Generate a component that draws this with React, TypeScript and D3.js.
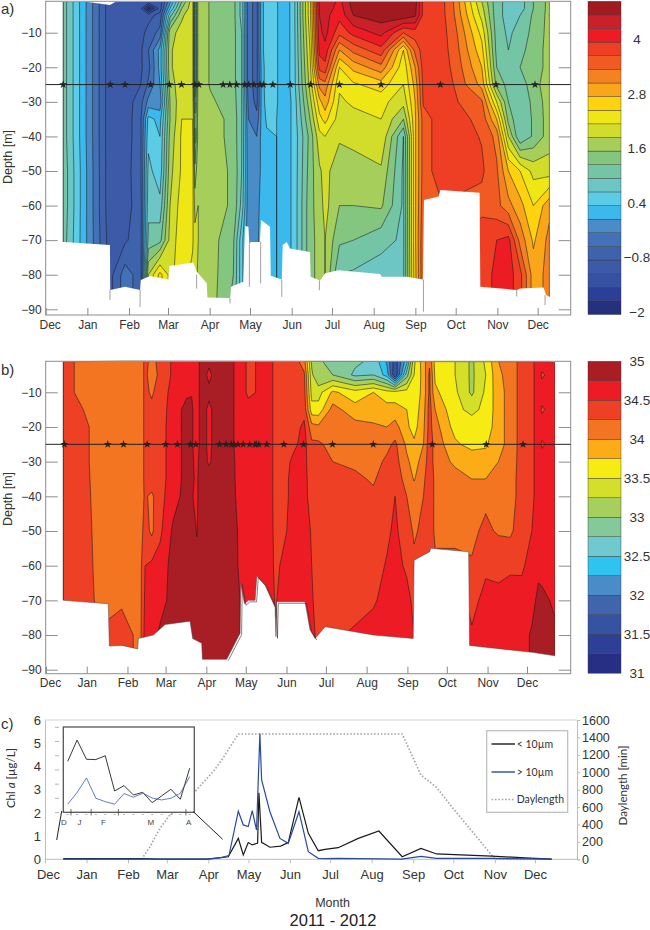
import React, { useRef, useEffect } from 'react';
import * as d3 from 'd3';

// days counted from 1 Dec 2011
const monthStarts = d3.timeMonth.range(new Date(2011, 11, 1), new Date(2012, 11, 2));

// a) temperature section: one row per sampling column, one value per depth
const tempDepths = [1, 3, 5, 10, 15, 20, 25, 30, 35, 40, 50, 60, 70, 80, 90];
const tempDays = [13.1, 47.8, 59, 70.7, 76.4, 85, 92.5, 101.2, 109.3, 111, 113.5, 122.2, 139.6, 145.8, 150.8, 157, 160.7, 164.4, 171.8, 178, 184, 196.6, 203.6, 207.8, 218.5, 228.9, 249.5, 266.1, 274.8, 281, 293.4, 303.3, 324.4, 335.5, 344.2, 352.9, 362.8, 374.7];
const tempGrid = [
  [1.15, 1.15, 1.15, 1.15, 1.15, 1.15, 1.15, 1.15, 1.15, 1.15, 1.2, 1.2, 1.15, 1.15, 1.15],
  [-1, -1, -1, -1, -1, -1, -1, -1, -1, -1, -1, -1, -0.95, -0.9, -0.9],
  [-1, -1, -1, -1, -1, -1, -1, -1, -1, -1, -0.95, -0.95, -0.85, -0.35, -0.3],
  [-1, -1, -1, -0.9, -0.85, -0.85, -0.8, -0.6, -0.55, -0.55, -0.55, -0.6, -0.6, -0.65, -0.7],
  [-0.9, -1.9, -0.9, -0.7, -0.5, -0.6, -0.45, -0.1, 0.5, 0.6, 0.8, 0.9, 1.1, 1.9, 2],
  [-1, -0.95, -0.7, -0.4, 0.2, 0.2, 0.1, -0.1, 0.3, 0.4, 0.5, 0.8, 1.2, 2.6, 2.7],
  [0, 0.4, 0.9, 1.8, 1.85, 1.85, 1.75, 1.6, 1.6, 1.7, 1.8, 1.9, 2, 2.1, 2.2],
  [1.3, 1.6, 1.85, 2, 2.1, 2.1, 2.1, 2.15, 2.2, 2.25, 2.25, 2.35, 2.4, 2.4, 2.4],
  [2.1, 2.1, 2.1, 2.1, 2.1, 2.1, 2.1, 2.15, 2.2, 2.3, 2.4, 2.3, 2.25, 2.1, 2],
  [0.4, 0.4, 0.4, 0.4, 0.4, 0.4, 0.4, 0.8, 1.1, 0.9, 1.4, 1.8, 2, 2, 2],
  [1.8, 1.8, 1.8, 1.8, 1.8, 1.8, 1.8, 1.75, 1.75, 1.75, 1.85, 1.9, 1.9, 1.85, 1.8],
  [1.58, 1.58, 1.58, 1.58, 1.58, 1.58, 1.58, 1.65, 1.75, 1.75, 1.75, 1.75, 1.75, 1.75, 1.75],
  [1.4, 1.4, 1.4, 1.4, 1.4, 1.4, 1.4, 1.45, 1.5, 1.5, 1.55, 1.55, 1.35, 1.3, 1.2],
  [0.9, 0.9, 0.9, 1, 1, 1, 1, 1, 1, 1, 1, 0.9, 0.5, 0.5, 0.5],
  [-0.4, -0.4, -0.4, -0.4, -0.4, -0.4, -0.4, -0.3, -0.2, -0.15, -0.1, -0.1, -0.1, -0.1, -0.1],
  [-0.6, -0.6, -0.6, -0.6, -0.6, -0.6, -0.6, -0.6, -0.4, -0.2, -0.15, -0.1, 0, 0, 0],
  [0.3, 0.3, 0.3, 0.3, 0.3, 0.2, 0.2, 0.2, 0.2, 0.2, 0.2, 0.3, 0.3, 0.3, 0.3],
  [0.6, 0.6, 0.6, 0.6, 0.6, 0.6, 0.6, 0.55, 0.45, 0.35, 0.35, 0.35, 0.35, 0.35, 0.35],
  [0.42, 0.42, 0.42, 0.42, 0.42, 0.42, 0.42, 0.42, 0.4, 0.4, 0.4, 0.4, 0.4, 0.4, 0.4],
  [0.25, 0.25, 0.25, 0.25, 0.25, 0.25, 0.25, 0.25, 0.25, 0.25, 0.25, 0.25, 0.25, 0.25, 0.25],
  [0.5, 0.5, 0.5, 0.5, 0.5, 0.5, 0.5, 0.45, 0.45, 0.45, 0.45, 0.45, 0.45, 0.45, 0.45],
  [2.4, 2.4, 2.4, 2.3, 2.2, 2.1, 2, 1.8, 1.6, 1.4, 1.45, 1.5, 1.5, 1.5, 1.5],
  [4.4, 4.3, 4.3, 4.2, 4.1, 3.8, 3.2, 2.7, 2.4, 2.1, 1.85, 1.75, 1.7, 1.7, 1.7],
  [4.6, 4.5, 4.4, 4.4, 4.2, 3.9, 3.3, 3, 2.6, 2.2, 2, 2, 1.9, 1.9, 1.9],
  [4.2, 4.15, 4.1, 3.8, 3.1, 2.5, 2.25, 2.15, 2.05, 1.95, 1.7, 1.6, 1.35, 1, 1],
  [4.75, 4.7, 4.6, 4.1, 3.5, 2.9, 2.45, 2.25, 2.1, 2, 1.75, 1.6, 1.3, 0.95, 0.95],
  [4.8, 4.8, 4.75, 4.4, 3.9, 3.3, 2.65, 2.3, 2.2, 2.15, 1.85, 1.65, 1.1, 0.85, 0.85],
  [4.85, 4.85, 4.8, 3.7, 2.5, 2.3, 2.2, 2, 1.6, 1, 0.95, 0.95, 0.95, 0.95, 0.95],
  [4.75, 4.7, 4.65, 3.85, 3.5, 3.1, 2.9, 2.8, 2.75, 2.75, 2.75, 2.75, 2.75, 2.7, 2.7],
  [3.9, 3.9, 3.9, 3.85, 3.85, 3.85, 3.8, 3.75, 3.55, 3.55, 3.55, 3.6, 3.7, 3.7, 3.7],
  [3.85, 3.85, 3.85, 3.85, 3.85, 3.85, 3.85, 3.85, 3.85, 3.85, 3.85, 3.65, 3.65, 3.65, 3.65],
  [3.4, 3.42, 3.45, 3.55, 3.6, 3.65, 3.7, 3.75, 3.85, 3.85, 3.85, 3.65, 3.65, 3.65, 3.65],
  [1.9, 2, 2.1, 2.4, 2.6, 2.8, 3, 3.45, 3.6, 3.68, 3.75, 3.6, 3.9, 3.9, 3.9],
  [1.1, 1.1, 1.1, 1.15, 1.2, 1.3, 1.5, 2.2, 2.8, 3.3, 3.45, 3.5, 4, 4.05, 4.05],
  [0.9, 0.9, 0.9, 0.95, 1, 1.05, 1.2, 1.3, 1.5, 1.9, 2.8, 3.2, 4.1, 4.15, 4.15],
  [0.85, 0.85, 1, 1.1, 1.2, 1.3, 1.1, 1, 1, 1, 2.5, 2.9, 3.3, 3.8, 3.8],
  [1.3, 1.3, 1.35, 1.4, 1.45, 1.45, 1.5, 1.4, 1.35, 1.35, 2.1, 2.5, 2.75, 2.95, 2.95],
  [1.7, 1.7, 1.7, 1.7, 1.7, 1.7, 1.75, 1.75, 1.75, 1.75, 2.05, 3, 3.2, 3.2, 3.2],
];
const tempBottomDays = [13.1, 47.8, 48, 59, 70.2, 70.7, 77.6, 91.2, 92, 109.8, 112.3, 119.8, 120.3, 137.1, 137.9, 147, 148.3, 150.8, 151.5, 152.5, 159.4, 160.2, 166.9, 167.4, 175.6, 176.3, 179.3, 181.8, 196.6, 197.1, 204.1, 207.8, 217.7, 248.8, 250, 268.7, 280.6, 281.4, 292.3, 293.6, 322.8, 323.3, 350.6, 353.1, 370.4, 372.2, 374.7];
const tempBottomDepths = [70.5, 71.4, 84.4, 83.5, 84.4, 81.5, 80.4, 81.4, 77.5, 76.5, 79.1, 82.5, 86.6, 86.7, 83.5, 82, 65.9, 66.1, 71.4, 70.5, 70.5, 64.2, 66.1, 80.3, 81.4, 71.4, 70.5, 72.4, 73.4, 80.6, 81.7, 79.6, 78.7, 79.8, 80.6, 80.6, 81.4, 58.4, 57.4, 55.5, 56.3, 83.5, 84.4, 84, 83.7, 85.9, 86.4];
const tempSpikeDays = [47.8, 70.2, 112.3, 137.1, 151.5, 159.9, 175.6, 203.6, 281, 350.4, 371.5];
const tempSpikeTops = [84.4, 84.4, 80, 86.7, 71.4, 70.5, 81.4, 81.7, 81.4, 84.4, 85.9];
const tempSpikeEnds = [87.3, 89.3, 84, 88.3, 83.5, 82.5, 86.4, 84.5, 90.7, 86.3, 88.8];
const tempNotchDays = [26, 47.8, 53];
const tempNotchDepths = [0.8, 2, 0.8];
const tempStarDays = [13, 48, 59, 78, 92, 101, 111, 114, 132, 137, 142, 148, 151, 155, 159.5, 162, 169, 182, 197, 218.5, 249.5, 293.6, 335, 364];
const tempThresholds = d3.range(0, 23).map((k) => -2 + 0.3 * k);
const tempColors = ['#25307f', '#2b3f98', '#3650a2', '#3c5aa8', '#3f62ad', '#4271b8', '#4a8cc8', '#3bb8ec', '#5ccbe5', '#6ec6c4', '#73c5a5', '#84c67f', '#a6ce5a', '#d2dc2a', '#eee715', '#fdd20e', '#faa61a', '#f58220', '#f15a22', '#ee3e24', '#ed1c24', '#c9202a', '#a11a20'];
const tempBarTicks = [4, 2.8, 1.6, 0.4, -0.8, -2];

// b) salinity section
const salDepths = [1, 5, 10, 15, 20, 25, 30, 35, 40, 50, 60, 70, 80, 90];
const salDays = [13.2, 28.4, 43.6, 57.6, 71.6, 75.4, 80.4, 86.8, 96.9, 107.1, 110.9, 114.7, 118.5, 124.1, 129.9, 142.6, 145.1, 148.9, 154, 170.5, 174.6, 180.6, 188.3, 196.4, 202.2, 207.3, 218.2, 235.2, 249.1, 259.3, 265.6, 274.5, 280.1, 287.2, 291.8, 296.1, 311.3, 324, 334.6, 344.3, 353.2, 362, 369.7, 374.7, 377.3, 387.4];
const salGrid = [
  [34.37, 34.37, 34.37, 34.37, 34.37, 34.37, 34.37, 34.37, 34.37, 34.37, 34.37, 34.37, 34.37, 34.37],
  [34.15, 34.15, 34.15, 34.25, 34.3, 34.3, 34.3, 34.31, 34.32, 34.34, 34.36, 34.37, 34.37, 34.37],
  [34.13, 34.13, 34.13, 34.13, 34.13, 34.13, 34.13, 34.13, 34.13, 34.13, 34.13, 34.15, 34.3, 34.3],
  [34.12, 34.12, 34.12, 34.12, 34.12, 34.12, 34.12, 34.12, 34.12, 34.12, 34.12, 34.2, 34.4, 34.4],
  [34.12, 34.12, 34.12, 34.12, 34.12, 34.12, 34.12, 34.12, 34.14, 34.14, 34.16, 34.16, 34.16, 34.16],
  [34.3, 34.3, 34.3, 34.3, 34.3, 34.3, 34.3, 34.3, 34.28, 34.35, 34.5, 34.55, 34.6, 34.6],
  [34.2, 34.15, 34.22, 34.3, 34.35, 34.35, 34.38, 34.4, 34.2, 34.2, 34.55, 34.6, 34.65, 34.65],
  [34.3, 34.3, 34.35, 34.4, 34.42, 34.42, 34.42, 34.42, 34.42, 34.45, 34.6, 34.65, 34.8, 34.8],
  [34.55, 34.55, 34.6, 34.6, 34.6, 34.6, 34.6, 34.6, 34.65, 34.8, 34.85, 34.85, 34.85, 34.85],
  [34.65, 34.65, 34.7, 34.85, 34.85, 34.85, 34.85, 34.85, 34.85, 34.85, 34.85, 34.85, 34.85, 34.85],
  [34.74, 34.74, 34.74, 34.78, 34.78, 34.78, 34.78, 34.78, 34.76, 34.85, 34.85, 34.85, 34.85, 34.85],
  [34.65, 34.65, 34.65, 34.65, 34.65, 34.65, 34.7, 34.72, 34.72, 34.74, 34.8, 34.85, 34.85, 34.85],
  [34.85, 34.85, 34.85, 34.85, 34.85, 34.85, 34.85, 34.85, 34.85, 34.85, 34.85, 34.85, 34.85, 34.85],
  [34.8, 34.7, 34.8, 34.7, 34.7, 34.7, 34.72, 34.85, 34.85, 34.85, 34.85, 34.85, 34.85, 34.85],
  [34.85, 34.85, 34.85, 34.85, 34.85, 34.85, 34.85, 34.85, 34.85, 34.85, 34.85, 34.85, 34.85, 34.85],
  [34.77, 34.77, 34.77, 34.77, 34.77, 34.77, 34.8, 34.8, 34.85, 34.85, 34.85, 34.85, 34.85, 34.85],
  [34.65, 34.65, 34.65, 34.65, 34.65, 34.65, 34.68, 34.7, 34.7, 34.78, 34.8, 34.85, 34.85, 34.85],
  [34.6, 34.6, 34.6, 34.6, 34.6, 34.6, 34.6, 34.6, 34.6, 34.6, 34.6, 34.7, 34.7, 34.7],
  [34.45, 34.45, 34.45, 34.6, 34.6, 34.6, 34.6, 34.6, 34.6, 34.6, 34.6, 34.6, 34.6, 34.6],
  [34.6, 34.6, 34.6, 34.6, 34.6, 34.6, 34.6, 34.6, 34.6, 34.6, 34.6, 34.6, 34.6, 34.6],
  [34.4, 34.4, 34.4, 34.4, 34.4, 34.4, 34.4, 34.4, 34.4, 34.42, 34.44, 34.48, 34.52, 34.52],
  [34.4, 34.4, 34.4, 34.4, 34.4, 34.4, 34.4, 34.4, 34.4, 34.45, 34.55, 34.6, 34.6, 34.6],
  [34.4, 34.4, 34.4, 34.4, 34.4, 34.45, 34.55, 34.6, 34.6, 34.6, 34.6, 34.6, 34.6, 34.6],
  [34.1, 34.3, 34.35, 34.42, 34.55, 34.58, 34.6, 34.6, 34.58, 34.6, 34.6, 34.6, 34.6, 34.6],
  [33.2, 33.3, 33.4, 33.6, 34.1, 34.3, 34.3, 34.35, 34.4, 34.48, 34.5, 34.52, 34.55, 34.55],
  [33.1, 33, 33.4, 33.6, 34.05, 34.3, 34.35, 34.35, 34.35, 34.35, 34.4, 34.42, 34.45, 34.45],
  [32.75, 33, 33.8, 34.1, 34.12, 34.15, 34.25, 34.3, 34.35, 34.4, 34.4, 34.4, 34.48, 34.48],
  [32.8, 32.7, 33.6, 33.85, 34.1, 34.15, 34.2, 34.3, 34.35, 34.4, 34.4, 34.45, 34.52, 34.52],
  [32.7, 32.75, 33.75, 33.9, 34.03, 34.1, 34.15, 34.22, 34.3, 34.35, 34.4, 34.47, 34.6, 34.6],
  [32.2, 32.4, 33.6, 33.85, 34, 34.18, 34.3, 34.38, 34.4, 34.45, 34.52, 34.58, 34.6, 34.6],
  [31.6, 31.5, 33.6, 33.85, 34.1, 34.3, 34.35, 34.4, 34.5, 34.55, 34.6, 34.65, 34.65, 34.65],
  [32.4, 32.9, 33.6, 33.75, 33.8, 33.95, 34.05, 34.15, 34.25, 34.35, 34.45, 34.6, 34.65, 34.65],
  [33.45, 33.5, 33.55, 33.6, 33.65, 33.8, 33.9, 33.98, 34.15, 34.22, 34.3, 34.42, 34.5, 34.5],
  [33.9, 33.85, 33.85, 33.9, 33.95, 34, 34.1, 34.2, 34.25, 34.3, 34.35, 34.5, 34.7, 34.7],
  [34.2, 34.3, 34.3, 34.35, 34.35, 34.4, 34.4, 34.4, 34.4, 34.4, 34.4, 34.4, 34.7, 34.7],
  [33.65, 33.7, 33.8, 34, 34.1, 34.15, 34.15, 34.2, 34.2, 34.2, 34.3, 34.3, 34.5, 34.5],
  [33.5, 33.5, 33.55, 33.55, 33.65, 33.8, 33.95, 34.1, 34.15, 34.2, 34.3, 34.6, 34.6, 34.6],
  [33.2, 33.2, 33.2, 33.45, 33.6, 33.65, 33.95, 34, 34.1, 34.2, 34.27, 34.45, 34.52, 34.55],
  [33.55, 33.5, 33.55, 33.55, 33.6, 33.72, 33.85, 34, 34.2, 34.3, 34.47, 34.55, 34.6, 34.6],
  [34, 33.95, 33.9, 33.9, 33.9, 33.9, 34, 34.05, 34.1, 34.22, 34.45, 34.55, 34.6, 34.6],
  [34.1, 34.1, 34.1, 34.1, 34.1, 34.1, 34.12, 34.15, 34.15, 34.2, 34.47, 34.58, 34.6, 34.6],
  [34.35, 34.35, 34.35, 34.35, 34.35, 34.35, 34.35, 34.35, 34.35, 34.4, 34.48, 34.55, 34.6, 34.6],
  [34.45, 34.45, 34.45, 34.45, 34.45, 34.45, 34.45, 34.45, 34.45, 34.5, 34.55, 34.62, 34.8, 34.8],
  [34.6, 34.6, 34.6, 34.6, 34.6, 34.6, 34.6, 34.6, 34.6, 34.6, 34.65, 34.85, 34.85, 34.85],
  [34.6, 34.47, 34.6, 34.47, 34.6, 34.47, 34.6, 34.6, 34.6, 34.6, 34.65, 34.82, 34.85, 34.85],
  [34.6, 34.6, 34.6, 34.6, 34.6, 34.6, 34.6, 34.6, 34.6, 34.6, 34.6, 34.7, 34.8, 34.8],
];
const salBottomDays = [13.2, 47.4, 48.2, 57.6, 69.8, 70.3, 81.7, 90.6, 109.6, 111.6, 118.5, 119, 137.5, 147.7, 148.2, 151, 154, 159.1, 160.4, 166.7, 174.3, 175, 175.6, 197.1, 200.9, 204.8, 212.4, 249.1, 279.4, 280.1, 292, 292.7, 321.6, 322.3, 370, 387.4];
const salBottomDepths = [70, 71, 83.2, 83, 84, 81, 80, 77, 76, 81, 82.4, 87, 87, 79.5, 65, 71, 70, 70, 63, 65.6, 72, 80.5, 70.4, 70.4, 78.5, 81, 77.6, 80, 81, 58.4, 56, 55, 56, 83, 85, 86];
const salStarDays = [14, 47, 59, 77, 91, 100, 110, 114, 132, 137, 141, 143, 146, 150, 155, 159, 160, 162, 168, 181, 196, 218, 249, 294, 335, 363];
const salThresholds = d3.range(0, 16).map((k) => 31 + 0.25 * k);
const salColors = ['#262f84', '#2e3f97', '#3652a3', '#3f66ad', '#4a8cc8', '#2fc4f0', '#6fc9cf', '#83c99a', '#a7cf5e', '#d4df2a', '#f6eb13', '#fbac17', '#f37421', '#ee4024', '#ed1c24', '#a91d24'];
const salBarTicks = [35, 34.5, 34, 33.5, 33, 32.5, 32, 31.5, 31];

// c) chlorophyll and daylength
const chlSmallDays = [13.7, 73.4, 85.9, 120.8, 136.9, 144.4, 148.1, 151.8, 154.8, 158.8, 159.8, 161.8, 168, 176, 181.7, 189.7, 196.7, 204.1, 209.1, 219, 234, 249.4, 266.8, 280.8, 292.5, 333.6, 358.5, 378.4];
const chlSmall = [0.03, 0.03, 0.01, 0.01, 0.11, 0.9, 0.19, 0.72, 0.62, 0.7, 2.87, 0.73, 0.52, 0.57, 0.72, 2.67, 1.12, 0.37, 0.43, 0.5, 0.9, 1.22, 0.11, 0.47, 0.23, 0.14, 0.06, 0.01];
const chlLargeDays = [13.7, 120.8, 130.7, 137.4, 144.4, 148.1, 151.8, 154.8, 158, 160.5, 161.8, 168, 175.5, 181.7, 189.7, 196.7, 204.1, 209.1, 219, 266.3, 280.8, 292.5, 333.6, 378.4];
const chlLarge = [0.01, 0.01, 0.06, 0.16, 2.07, 1.48, 1.41, 2.1, 1.26, 5.42, 3.42, 2.05, 0.9, 0.69, 2.05, 0.33, 0.04, 0.03, 0.04, 0.01, 0.13, 0.04, 0.04, 0.01];
const daylengthDays = [13.7, 72.2, 78.4, 85.9, 93.3, 100.8, 112, 125.7, 133.7, 144.4, 266.8, 280.8, 292.5, 303.7, 333.5, 336, 378.3];
const daylength = [0, 0, 145, 356, 510, 567, 778, 1007, 1180, 1440, 1440, 968, 826, 605, 50, 0, 0];

// inset: first samples on a finer scale
const insetSmall = [0.036, 0.051, 0.0375, 0.0373, 0.04, 0.0152, 0.019, 0.0124, 0.0143, 0.007, 0.0117, 0.0164, 0.0094, 0.0312];
const insetLarge = [0.0059, 0.0141, 0.0244, 0.0101, 0.0077, 0.0059, 0.0134, 0.0108, 0.0136, 0.0103, 0.0089, 0.0101, 0.0136, 0.0253];
const insetTicks = [0, 0.01, 0.02, 0.03, 0.04, 0.05, 0.06];
const insetMonthTicks = [0.35, 2.5, 5.4, 12.6];
const insetLetters = [['D', -0.4], ['J', 1.25], ['F', 3.8], ['M', 8.85], ['A', 12.9]] as const;

const FONT = '"Liberation Sans", Arial, sans-serif';
const toDate = (d: number) => new Date(new Date(2011, 11, 1).getTime() + d * 864e5);

function sectionPanel(root: any, opts: any) {
  const { id, days, depths, grid, thresholds, colors, bottomDays, bottomDepths, starDays, x, y, frame, bar, barTicks, label, labelY, traceBottom } = opts;
  const g = root.append('g');
  const n = days.length;
  const m = depths.length;
  const flat: number[] = [];
  for (let j = 0; j < m; j++) for (let i = 0; i < n; i++) flat.push(grid[i][j]);

  // grid coordinates back to the irregular dates and depths
  const gx = d3.scaleLinear().domain(days.map((_: number, i: number) => i + 0.5)).range(days.map((d: number) => x(toDate(d)))).clamp(true);
  const gy = d3.scaleLinear().domain(depths.map((_: number, i: number) => i + 0.5)).range(depths.map((d: number) => y(d))).clamp(true);
  const path = d3.geoPath(d3.geoTransform({
    point(px: number, py: number) { (this as any).stream.point(gx(px), gy(py)); },
  }));
  const contours = d3.contours().size([n, m]);

  const left = x(toDate(days[0]));
  const right = x(toDate(days[n - 1]));
  g.append('clipPath').attr('id', id).append('rect')
    .attr('x', left - 0.5).attr('y', frame.top + 0.8)
    .attr('width', right - left + 0.2).attr('height', y(90) - frame.top + 6);

  const bands = g.append('g').attr('clip-path', `url(#${id})`);
  thresholds.forEach((t: number, k: number) => {
    bands.append('path').attr('d', path(contours.contour(flat, t)))
      .attr('fill', colors[k])
      .attr('stroke', k === 0 ? 'none' : '#1c1c1c')
      .attr('stroke-width', 0.55)
      .attr('stroke-linejoin', 'round');
  });

  const bottomPts = bottomDays.map((d: number, i: number) => [x(toDate(d)), y(bottomDepths[i])]);
  const mask = d3.area<number[]>().x((d) => d[0]).y0(frame.bottom).y1((d) => d[1]);
  g.append('path').attr('d', mask([[left - 2, bottomPts[0][1]], ...bottomPts, [right + 2, bottomPts[bottomPts.length - 1][1]]])).attr('fill', '#fff');
  if (traceBottom) {
    const line = d3.line();
    g.append('path').attr('d', line(bottomPts)).attr('fill', 'none').attr('stroke', '#444').attr('stroke-width', 0.5);
    g.append('path').attr('d', line(bottomPts.slice(12, 26).map((p: number[]) => [p[0] + 1.5, p[1] + 1.5]))).attr('fill', 'none').attr('stroke', '#333').attr('stroke-width', 0.6);
    g.append('path').attr('d', line([[left, frame.top + 0.5], [x(toDate(60)), frame.top - 0.2], [right - 5, frame.top + 0.5], [right, frame.top + 3]]))
      .attr('fill', 'none').attr('stroke', '#555').attr('stroke-width', 0.8);
  }
  if (opts.notch) {
    const pts = opts.notch.days.map((d: number, i: number) => [x(toDate(d)), y(opts.notch.depths[i])]);
    g.append('path').attr('d', d3.line()(pts) + 'Z').attr('fill', '#fff');
  }
  if (opts.spikes) {
    opts.spikes.days.forEach((d: number, i: number) => {
      g.append('line').attr('x1', x(toDate(d))).attr('x2', x(toDate(d)))
        .attr('y1', y(opts.spikes.tops[i])).attr('y2', y(opts.spikes.ends[i]))
        .attr('stroke', '#777').attr('stroke-width', 0.7);
    });
  }

  g.append('rect').attr('x', frame.left).attr('y', frame.top)
    .attr('width', frame.right - frame.left).attr('height', frame.bottom - frame.top)
    .attr('fill', 'none').attr('stroke', '#8c8c8c');

  const months = d3.axisBottom(x).tickValues(monthStarts).tickSize(-7).tickPadding(5)
    .tickFormat((d: any) => d3.timeFormat('%b')(d));
  const gm = g.append('g').attr('transform', `translate(0,${frame.bottom})`).call(months as any);
  const depthTicks = d3.range(10, 91, 10);
  const gl = g.append('g').attr('transform', `translate(${frame.left},0)`)
    .call(d3.axisLeft(y).tickValues(depthTicks).tickSize(-12).tickPadding(4).tickFormat((d: any) => `\u2212${d}`) as any);
  const gr = g.append('g').attr('transform', `translate(${frame.right},0)`)
    .call(d3.axisRight(y).tickValues(depthTicks).tickSize(-12).tickFormat(() => '') as any);
  [gm, gl, gr].forEach((a) => {
    a.select('.domain').remove();
    a.selectAll('line').attr('stroke', '#8c8c8c');
    a.selectAll('text').attr('font-size', 12).attr('font-family', FONT).attr('fill', '#333');
  });
  gm.select('.tick text').attr('dx', 4);

  g.append('line').attr('x1', frame.left).attr('x2', frame.right).attr('y1', y(25)).attr('y2', y(25))
    .attr('stroke', '#222').attr('stroke-width', 1);
  g.selectAll('.star').data(starDays).join('path')
    .attr('d', d3.symbol(d3.symbolStar, 20)() as string)
    .attr('transform', (d: any) => `translate(${x(toDate(d))},${y(25)})`)
    .attr('fill', '#222');

  // colour bar
  const edges = [...thresholds, thresholds[thresholds.length - 1] + (thresholds[1] - thresholds[0])];
  const cb = d3.scaleLinear().domain([edges[0], edges[edges.length - 1]]).range([frame.bottom - 0.5, frame.top]);
  colors.forEach((c: string, k: number) => {
    g.append('rect').attr('x', 588).attr('width', 33)
      .attr('y', cb(edges[k + 1])).attr('height', cb(edges[k]) - cb(edges[k + 1]))
      .attr('fill', c).attr('stroke', '#333').attr('stroke-width', 0.4);
  });
  barTicks.forEach((v: number) => {
    g.append('text').attr('x', 637).attr('y', cb(v) + bar.dy)
      .attr('text-anchor', 'middle').attr('font-size', 13.5).attr('font-family', FONT).attr('fill', '#333')
      .text(String(v).replace('-', '\u2212'));
  });

  g.append('text').attr('x', 1).attr('y', frame.top + label.dy)
    .attr('font-size', 15).attr('font-family', FONT).attr('fill', '#333').text(label.text);
  g.append('text').attr('transform', `translate(12,${labelY}) rotate(-90)`).attr('text-anchor', 'middle')
    .attr('font-size', 12.5).attr('font-family', FONT).attr('fill', '#333').text('Depth [m]');
}

function chlPanel(root: any) {
  const g = root.append('g');
  const x = d3.scaleTime().domain([new Date(2011, 11, 1), new Date(2012, 11, 1)]).range([45, 535]);
  const y = d3.scaleLinear().domain([0, 6]).range([859.3, 720]);
  const yDay = d3.scaleLinear().domain([0, 1600]).range([859.3, 720]);
  const line = (days: number[], vals: number[], yy: any) =>
    d3.line<number>().x((_, i) => x(toDate(days[i]))).y((d) => yy(d))(vals);

  g.append('line').attr('x1', 45).attr('x2', 577).attr('y1', 720).attr('y2', 720).attr('stroke', '#d4d4d4');
  const gb = g.append('g').attr('transform', 'translate(0,859.3)').call(
    d3.axisBottom(x).tickValues(monthStarts).tickSize(4).tickPadding(6).tickFormat((d: any) => d3.timeFormat('%b')(d)) as any);
  gb.select('.domain').attr('d', 'M45,0H577');
  const gl = g.append('g').attr('transform', 'translate(45,0)').call(
    d3.axisLeft(y).ticks(6).tickSize(0).tickPadding(4) as any);
  const gr = g.append('g').attr('transform', 'translate(577,0)').call(
    d3.axisRight(yDay).tickValues(d3.range(0, 1601, 200)).tickSize(3).tickPadding(2) .tickFormat((d: any) => String(d)) as any);
  [gb, gl, gr].forEach((a) => {
    a.select('.domain').attr('stroke', '#bdbdbd');
    a.selectAll('line').attr('stroke', '#bdbdbd');
    a.selectAll('text').attr('font-size', 13).attr('font-family', FONT).attr('fill', '#333');
  });
  gr.selectAll('text').attr('font-size', 12.5);
  gb.select('.tick text').attr('dx', 3);

  g.append('path').attr('d', line(daylengthDays, daylength, yDay)).attr('fill', 'none')
    .attr('stroke', '#a3a3a3').attr('stroke-width', 1.6).attr('stroke-dasharray', '1.6 1.8');
  g.append('path').attr('d', line(chlSmallDays, chlSmall, y)).attr('fill', 'none').attr('stroke', '#1a1a1a').attr('stroke-width', 1.2);
  g.append('path').attr('d', line(chlLargeDays, chlLarge, y)).attr('fill', 'none').attr('stroke', '#2b4a9b').attr('stroke-width', 1.2);

  // inset
  const ix = d3.scaleLinear().domain([0, 13]).range([67.7, 189.7]);
  const iy = d3.scaleLinear().domain([0, 0.06]).range([812.6, 727.3]);
  g.append('rect').attr('x', 63.3).attr('y', 727).attr('width', 131).attr('height', 85.3)
    .attr('fill', '#fff').attr('stroke', '#555').attr('stroke-width', 1.3);
  g.append('path').attr('d', d3.line()([[61.7, 811], [56.7, 840]])).attr('stroke', '#222');
  g.append('path').attr('d', d3.line()([[193.3, 811.7], [222.7, 839.3]])).attr('stroke', '#222');
  const iline = (vals: number[]) => d3.line<number>().x((_, i) => ix(i)).y((d) => iy(d))(vals);
  g.append('path').attr('d', iline(insetSmall)).attr('fill', 'none').attr('stroke', '#222').attr('stroke-width', 0.9);
  g.append('path').attr('d', iline(insetLarge)).attr('fill', 'none').attr('stroke', '#3f5aa8').attr('stroke-width', 0.8);
  insetTicks.forEach((t) => {
    g.append('rect').attr('x', 55).attr('y', iy(t) - 0.5).attr('width', 4).attr('height', 1).attr('fill', '#b5b5b5');
  });
  d3.range(0, 14).forEach((i) => {
    g.append('rect').attr('x', ix(i) - 1).attr('y', 814).attr('width', 2).attr('height', 1).attr('fill', '#b5b5b5');
  });
  insetMonthTicks.forEach((i) => {
    g.append('line').attr('x1', ix(i)).attr('x2', ix(i)).attr('y1', 809).attr('y2', 815.5).attr('stroke', '#333').attr('stroke-width', 0.7);
  });
  insetLetters.forEach(([s, i]) => {
    g.append('text').attr('x', ix(i)).attr('y', 825).attr('text-anchor', 'middle')
      .attr('font-size', 8).attr('font-family', FONT).attr('fill', '#444').text(s);
  });

  // legend
  g.append('rect').attr('x', 486.7).attr('y', 730.7).attr('width', 81).attr('height', 81.6)
    .attr('fill', '#fff').attr('stroke', '#bbb').attr('stroke-width', 1.2);
  const legend = [
    ['< 10\u00b5m', '#1a1a1a', null, 744],
    ['> 10\u00b5m', '#2b4a9b', null, 772],
    ['Daylength', '#a3a3a3', '1.6 1.8', 799.5],
  ] as const;
  legend.forEach(([name, color, dash, ly]) => {
    g.append('line').attr('x1', 491.5).attr('x2', 515).attr('y1', ly).attr('y2', ly)
      .attr('stroke', color).attr('stroke-width', 1.4).attr('stroke-dasharray', dash);
    g.append('text').attr('x', 516.7).attr('y', ly + 3.5).attr('font-size', 10.5).attr('font-family', 'Lato').attr('fill', '#333').text(name);
  });

  g.append('text').attr('x', 1).attr('y', 729).attr('font-size', 15).attr('font-family', FONT).attr('fill', '#333').text('c)');
  const ylab = g.append('text').attr('transform', 'translate(14.5,778) rotate(-90)').attr('text-anchor', 'middle')
    .attr('font-size', 11.5).attr('font-family', 'Lato').attr('fill', '#333');
  ylab.append('tspan').text('Chl ');
  ylab.append('tspan').attr('font-style', 'italic').text('a');
  ylab.append('tspan').text(' [\u00b5g/L]');
  g.append('text').attr('transform', 'translate(626.5,785.5) rotate(-90)').attr('text-anchor', 'middle')
    .attr('font-size', 11.5).attr('font-family', 'Lato').attr('fill', '#333').text('Daylength [min]');
  g.append('text').attr('x', 332.5).attr('y', 907).attr('text-anchor', 'middle')
    .attr('font-size', 12.5).attr('font-family', FONT).attr('fill', '#333').text('Month');
  g.append('text').attr('x', 333).attr('y', 926).attr('text-anchor', 'middle')
    .attr('font-size', 16.5).attr('font-family', FONT).attr('fill', '#222').text('2011 - 2012');
}

const App = () => {
  const svgRef = useRef<SVGSVGElement>(null);

  useEffect(() => {
    const svg = d3.select(svgRef.current);
    svg.selectAll('*').remove();
    const start = new Date(2011, 11, 1);
    const end = new Date(2012, 11, 1);

    sectionPanel(svg, {
      id: 'clip-temp',
      days: tempDays, depths: tempDepths, grid: tempGrid,
      thresholds: tempThresholds, colors: tempColors,
      bottomDays: tempBottomDays, bottomDepths: tempBottomDepths, starDays: tempStarDays,
      notch: { days: tempNotchDays, depths: tempNotchDepths },
      spikes: { days: tempSpikeDays, tops: tempSpikeTops, ends: tempSpikeEnds },
      x: d3.scaleTime().domain([start, end]).range([45.7, 537.7]),
      y: d3.scaleLinear().domain([10, 90]).range([32.7, 309.3]),
      frame: { left: 45.7, right: 570.7, top: 1.3, bottom: 315 },
      bar: { dy: 2 }, barTicks: tempBarTicks,
      label: { text: 'a)', dy: 13 }, labelY: 157,
    });
    sectionPanel(svg, {
      id: 'clip-sal',
      days: salDays, depths: salDepths, grid: salGrid,
      thresholds: salThresholds, colors: salColors,
      bottomDays: salBottomDays, bottomDepths: salBottomDepths, starDays: salStarDays,
      x: d3.scaleTime().domain([start, end]).range([46, 527]),
      y: d3.scaleLinear().domain([10, 90]).range([392.3, 669.7]),
      frame: { left: 45.7, right: 570.7, top: 361.3, bottom: 673.7 },
      bar: { dy: 4.5 }, barTicks: salBarTicks,
      label: { text: 'b)', dy: 14 }, labelY: 499, traceBottom: true,
    });
    chlPanel(svg);
  }, []);

  return <svg ref={svgRef} width={650} height={930} style={{ position: 'absolute', left: 0, top: 0, background: '#fff' }} />;
};

export default App;
